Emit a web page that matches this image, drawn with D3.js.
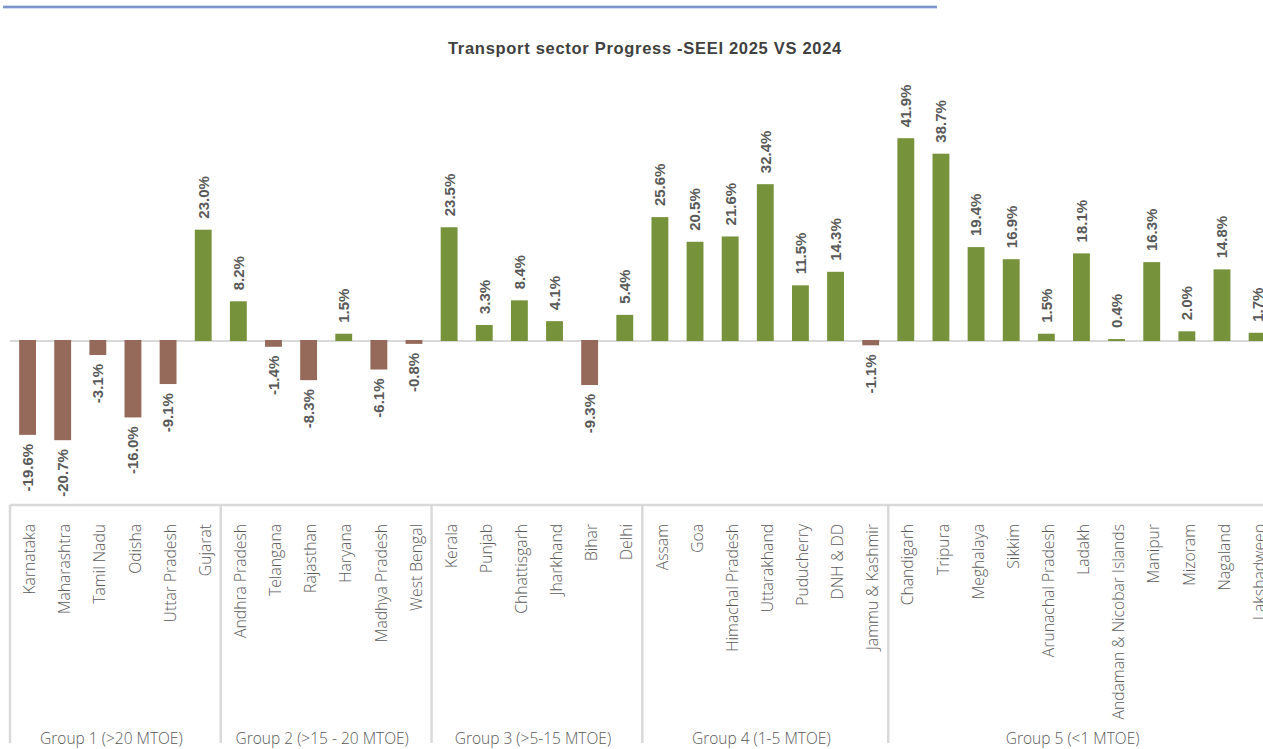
<!DOCTYPE html>
<html>
<head>
<meta charset="utf-8">
<script src="https://cdn.jsdelivr.net/npm/d3@7"></script>
<style>
  html, body { margin: 0; padding: 0; background: #ffffff; }
  svg { display: block; }
</style>
</head>
<body>
<svg id="chart" width="1263" height="749"></svg>
<script>
// States / UTs in order, grouped by transport energy consumption
const categories = [
  "Karnataka", "Maharashtra", "Tamil Nadu", "Odisha", "Uttar Pradesh", "Gujarat",
  "Andhra Pradesh", "Telangana", "Rajasthan", "Haryana", "Madhya Pradesh", "West Bengal",
  "Kerala", "Punjab", "Chhattisgarh", "Jharkhand", "Bihar", "Delhi",
  "Assam", "Goa", "Himachal Pradesh", "Uttarakhand", "Puducherry", "DNH & DD", "Jammu & Kashmir",
  "Chandigarh", "Tripura", "Meghalaya", "Sikkim", "Arunachal Pradesh", "Ladakh",
  "Andaman & Nicobar Islands", "Manipur", "Mizoram", "Nagaland", "Lakshadweep"
];

// Change in transport sector score, SEEI 2025 vs 2024 (%)
const progress = [
  -19.6, -20.7, -3.1, -16.0, -9.1, 23.0,
  8.2, -1.4, -8.3, 1.5, -6.1, -0.8,
  23.5, 3.3, 8.4, 4.1, -9.3, 5.4,
  25.6, 20.5, 21.6, 32.4, 11.5, 14.3, -1.1,
  41.9, 38.7, 19.4, 16.9, 1.5, 18.1, 0.4, 16.3, 2.0, 14.8, 1.7
];

const groupLabels = [
  "Group 1 (>20 MTOE)", "Group 2 (>15 - 20 MTOE)", "Group 3 (>5-15 MTOE)",
  "Group 4 (1-5 MTOE)", "Group 5 (<1 MTOE)"
];
const groupSizes = [6, 6, 6, 7, 11];

const title = "Transport sector Progress -SEEI 2025 VS 2024";

const W = 1263, H = 749;
const svg = d3.select("#chart");

const plotLeft = 10, step = 35.13;
const x = d3.scaleBand()
  .domain(categories)
  .range([plotLeft, plotLeft + step * categories.length])
  .paddingInner(0.52)
  .paddingOuter(0.26);

const zeroY = 341, pxPerUnit = 4.84;
const y = d3.scaleLinear()
  .domain([-30, 50])
  .range([zeroY + 30 * pxPerUnit, zeroY - 50 * pxPerUnit]);

const txtGrey = "#595959";
const lineGrey = "#d9d9d9";
const fontFamily = "'Open Sans', 'Liberation Sans', sans-serif";

// Decorative rule at the very top
svg.append("line")
  .attr("x1", 3).attr("x2", 937).attr("y1", 7).attr("y2", 7)
  .attr("stroke", "#aabbe0").attr("stroke-width", 3);
svg.append("line")
  .attr("x1", 3).attr("x2", 937).attr("y1", 7).attr("y2", 7)
  .attr("stroke", "#4f72b8").attr("stroke-width", 1.2);

// Title
svg.append("text")
  .attr("x", 645).attr("y", 54)
  .attr("text-anchor", "middle")
  .attr("font-family", "'Liberation Sans', Arial, sans-serif")
  .attr("font-weight", 700)
  .attr("font-size", 16.5)
  .attr("letter-spacing", 0.7)
  .attr("fill", "#404040")
  .text(title);

// Zero line
svg.append("line")
  .attr("x1", plotLeft).attr("x2", W)
  .attr("y1", y(0)).attr("y2", y(0))
  .attr("stroke", lineGrey).attr("stroke-width", 2);

// Bars
svg.append("g").selectAll("rect")
  .data(categories)
  .join("rect")
  .attr("x", d => x(d))
  .attr("width", x.bandwidth())
  .attr("y", (d, i) => Math.min(y(progress[i]), y(0) - 1))
  .attr("height", (d, i) => Math.abs(y(progress[i]) - y(0)))
  .attr("fill", (d, i) => progress[i] < 0 ? "#956a5b" : "#76923b");

// Value labels (rotated)
svg.append("g").selectAll("text")
  .data(categories)
  .join("text")
  .attr("transform", (d, i) => {
    const v = progress[i];
    const cx = x(d) + x.bandwidth() / 2;
    const yy = v >= 0 ? y(v) - 11 : y(v) + 8;
    return `translate(${cx},${yy}) rotate(-90)`;
  })
  .attr("text-anchor", (d, i) => progress[i] >= 0 ? "start" : "end")
  .attr("dy", "0.36em")
  .attr("font-family", "'Liberation Sans', Arial, sans-serif")
  .attr("font-weight", 700)
  .attr("font-size", 15)
  .attr("fill", txtGrey)
  .text((d, i) => progress[i].toFixed(1) + "%");

// Category axis box
const axisTop = 505, axisBottom = 743;
svg.append("line")
  .attr("x1", plotLeft).attr("x2", W)
  .attr("y1", axisTop).attr("y2", axisTop)
  .attr("stroke", lineGrey).attr("stroke-width", 2.5);

// Group boundaries
const bounds = [0];
groupSizes.forEach(n => bounds.push(bounds[bounds.length - 1] + n));
const boundX = k => plotLeft + k * x.step();

svg.append("g").selectAll("line")
  .data(bounds.slice(0, bounds.length - 1))
  .join("line")
  .attr("x1", d => boundX(d)).attr("x2", d => boundX(d))
  .attr("y1", axisTop).attr("y2", axisBottom)
  .attr("stroke", lineGrey).attr("stroke-width", 2.5);

// Category names (rotated)
svg.append("g").selectAll("text")
  .data(categories)
  .join("text")
  .attr("transform", d => `translate(${x(d) + x.bandwidth() / 2 + 2},${axisTop + 19}) rotate(-90)`)
  .attr("text-anchor", "end")
  .attr("dy", "0.36em")
  .attr("font-family", fontFamily)
  .attr("font-weight", 300)
  .attr("font-size", 15.7)
  .attr("fill", txtGrey)
  .text(d => d);

// Group names
svg.append("g").selectAll("text")
  .data(groupLabels)
  .join("text")
  .attr("x", (d, i) => {
    const a = boundX(bounds[i]);
    const b = Math.min(boundX(bounds[i + 1]), W + 2);
    return (a + b) / 2 - 4;
  })
  .attr("y", 744)
  .attr("text-anchor", "middle")
  .attr("font-family", fontFamily)
  .attr("font-weight", 300)
  .attr("font-size", 15.5)
  .attr("fill", txtGrey)
  .text(d => d);
</script>
</body>
</html>
